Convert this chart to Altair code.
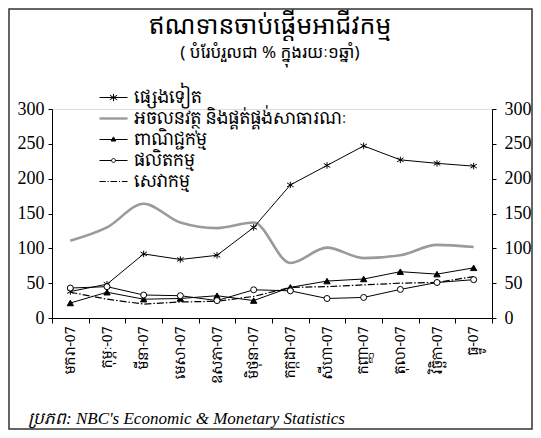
import altair as alt
import pandas as pd

months = ["មករា-07", "កុម្ភៈ-07", "មីនា-07", "មេសា-07", "ឧសភា-07", "មិថុនា-07",
          "កក្កដា-07", "សីហា-07", "កញ្ញា-07", "តុលា-07", "វិច្ឆិកា-07", "ធ្នូ-07"]
series_names = ["ផ្សេងទៀត", "អចលនវត្ថុ និងផ្គត់ផ្គង់សាធារណៈ", "ពាណិជ្ជកម្ម", "ផលិតកម្ម", "សេវាកម្ម"]

others = [38, 48.5, 92, 84, 90, 130, 191, 219, 247, 227, 222, 218]
real_estate = [111, 130, 164, 137, 129, 137, 79, 101, 86, 90, 105, 102]
commerce = [21.5, 37, 27, 28, 32, 25, 44, 53, 56, 66.5, 63, 72]
manufacturing = [43, 45, 33, 32, 25, 40.5, 39, 28, 29.5, 41, 51, 55]
services = [37, 27, 20, 23, 24, 31, 44, 45, 47.5, 50, 51, 59.5]

y_ticks = [0, 50, 100, 150, 200, 250, 300]

title_text = "ឥណទានចាប់ផ្ដើមអាជីវកម្ម"
subtitle_text = "( បំរែបំរួលជា % ក្នុងរយៈ១ឆ្នាំ)"
source_text = "ប្រភព: NBC's Economic & Monetary Statistics"

rows = []
for name, vals in zip(series_names, [others, real_estate, commerce, manufacturing, services]):
    for m, v in zip(months, vals):
        rows.append({"month": m, "series": name, "value": v})
df = pd.DataFrame(rows)

KH = "'Noto Serif Khmer', 'Noto Sans Khmer', 'Liberation Serif', serif"
KH_LIGHT = "'Noto Sans Khmer', 'Noto Serif Khmer', serif"
SERIF = "Liberation Serif"

W, H = 440, 209
PL, PT, PR, PB = 44, 101, 41, 112

bandscale = alt.Scale(type="band", paddingInner=0, paddingOuter=0)
xaxis = alt.Axis(title=None, labelAngle=-90, tickBand="extent",
                 labelFont=KH, labelFontSize=14, labelColor="black",
                 domainColor="black", tickColor="black", tickSize=5,
                 labelPadding=3, labelLimit=200)
xenc = alt.X("month:N", sort=months, scale=bandscale, bandPosition=0.5, axis=xaxis)

yscale = alt.Scale(domain=[0, 300], nice=False, zero=True)


def yaxis(orient):
    return alt.Axis(title=None, orient=orient, values=y_ticks, grid=False,
                    labelFont=SERIF, labelFontSize=18, labelColor="black",
                    domainColor="black", tickColor="black", tickSize=4,
                    labelPadding=4 if orient == "left" else 8)


yin = alt.Y("value:Q", scale=yscale, axis=None)
base = alt.Chart(df)


def only(name):
    return base.transform_filter(alt.datum.series == name)


gray = only(series_names[1]).mark_line(
    interpolate="monotone", strokeWidth=2.6, color="#9a9a9a"
).encode(x=xenc, y=alt.Y("value:Q", scale=yscale, axis=yaxis("left")))

line_others = only(series_names[0]).mark_line(strokeWidth=1, color="black").encode(x=xenc, y=yin)
line_commerce = only(series_names[2]).mark_line(strokeWidth=1, color="black").encode(x=xenc, y=yin)
line_manu = only(series_names[3]).mark_line(strokeWidth=1, color="black").encode(x=xenc, y=yin)
line_serv = only(series_names[4]).mark_line(strokeWidth=1.2, color="black",
                                             strokeDash=[7, 2, 1.5, 2]).encode(x=xenc, y=yin)

star = "M0,-1V1M-1,-0.6L1,0.6M-1,0.6L1,-0.6"
pts_others = only(series_names[0]).mark_point(shape=star, size=42, stroke="black", strokeWidth=1,
                                              opacity=1, filled=False).encode(x=xenc, y=yin)
pts_commerce = only(series_names[2]).mark_point(shape="triangle-up", size=40, fill="black", stroke="black",
                                                strokeWidth=1, opacity=1).encode(x=xenc, y=yin)
pts_manu = only(series_names[3]).mark_point(shape="circle", size=36, fill="white", stroke="black",
                                            strokeWidth=1, opacity=1).encode(x=xenc, y=yin)

# legend symbols: 14px nominal box, paths extend to +-2 units (28px wide)
leg_paths = [
    "M-2,0H2M0,-0.52V0.52M-0.52,-0.32L0.52,0.32M-0.52,0.32L0.52,-0.32",
    "M-2,-0.1H2M-2,0H2M-2,0.1H2",
    "M-2,0H2M-0.34,0.22L0,-0.38L0.34,0.22ZM-0.2,0.14L0,-0.2L0.2,0.14ZM-0.08,0.08L0,-0.06L0.08,0.08Z",
    "M-2,0H-0.28M0.28,0H2M0.28,0A0.28,0.28 0 1,1 -0.28,0A0.28,0.28 0 1,1 0.28,0Z",
    "M-2,0H-1.1M-0.84,0H-0.68M-0.42,0H0.52M0.78,0H0.94M1.2,0H2",
]
leg = alt.Legend(title=None, orient="none", legendX=53, legendY=-20,
                 symbolOpacity=1, symbolSize=196, symbolStrokeWidth=1,
                 symbolFillColor="transparent",
                 labelFont=KH, labelFontSize=17, labelColor="black",
                 rowPadding=3, labelOffset=12, labelLimit=400)
legend_layer = base.mark_point(opacity=0, strokeWidth=1, filled=False).encode(
    x=xenc,
    y=alt.Y("value:Q", scale=yscale, axis=yaxis("right")),
    shape=alt.Shape("series:N", scale=alt.Scale(domain=series_names, range=leg_paths), legend=leg),
    color=alt.Color("series:N", scale=alt.Scale(domain=series_names,
                                                range=["black", "#9a9a9a", "black", "black", "black"]),
                    legend=leg),
)

one = pd.DataFrame({"t": [title_text], "s": [subtitle_text], "src": [source_text]})
frame = alt.Chart(one).mark_rect(fill="transparent", stroke="#333333", strokeWidth=1.5).encode(
    x=alt.value(-PL + 1), x2=alt.value(W + PR - 1), y=alt.value(-PT + 1), y2=alt.value(H + PB - 1))
title = alt.Chart(one).mark_text(font=KH_LIGHT, fontSize=25, color="black").encode(
    text="t:N", x=alt.value(218), y=alt.value(-83))
subtitle = alt.Chart(one).mark_text(font=KH_LIGHT, fontSize=17, color="black").encode(
    text="s:N", x=alt.value(218), y=alt.value(-56))
source = alt.Chart(one).mark_text(font=SERIF, fontSize=17, fontStyle="italic", color="black",
                                  align="left").encode(
    text="src:N", x=alt.value(-24), y=alt.value(310))

chart = alt.layer(
    frame, title, subtitle, source, gray, line_others, line_commerce, line_manu, line_serv,
    pts_others, pts_commerce, pts_manu, legend_layer
).resolve_scale(y="independent").properties(
    width=W, height=H,
    autosize=alt.AutoSizeParams(type="none"),
    padding={"left": PL, "top": PT, "right": PR, "bottom": PB},
).configure_view(stroke=None).configure(background="white")

chart.save("out.html", embed_options={"renderer": "svg", "actions": False})
